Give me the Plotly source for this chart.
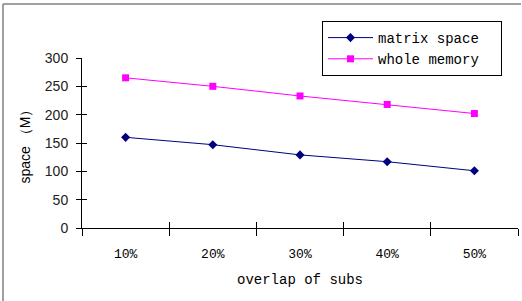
import plotly.graph_objects as go

categories = ["10%", "20%", "30%", "40%", "50%"]
matrix_space = [160, 147, 129, 117, 101]
whole_memory = [265, 250, 233, 218, 202]
series_names = ["matrix space", "whole memory"]
y_ticks = [0, 50, 100, 150, 200, 250, 300]

L, R, T, B = 82, 4, 58, 73
W, H = 522, 301
pw = W - L - R
ph = H - T - B

def px_x(x):
    return (x - L) / pw

def px_y(y):
    return (H - B - y) / ph

pad = "\u00a0\u00a0"  # right padding inside legend box
mono = "Liberation Mono"
fig = go.Figure()
fig.add_trace(go.Scatter(x=categories, y=matrix_space, name=series_names[0] + pad,
                         mode="lines+markers",
                         line=dict(color="#000080", width=1),
                         marker=dict(symbol="diamond", size=7, color="#000080")))
fig.add_trace(go.Scatter(x=categories, y=whole_memory, name=series_names[1] + pad,
                         mode="lines+markers",
                         line=dict(color="#FF00FF", width=1),
                         marker=dict(symbol="square", size=7, color="#FF00FF")))
# helper trace for crossing ticks
fig.add_trace(go.Scatter(x=categories, y=matrix_space, xaxis="x2", yaxis="y2",
                         showlegend=False, hoverinfo="skip", mode="none"))

fig.update_layout(
    width=W, height=H,
    margin=dict(l=L, r=R, t=T, b=B, autoexpand=False),
    paper_bgcolor="white", plot_bgcolor="white",
    showlegend=True,
    legend=dict(xref="container", yref="container", x=322 / W, y=1 - 21 / H,
                xanchor="left", yanchor="top",
                bordercolor="black", borderwidth=1, bgcolor="white",
                font=dict(family=mono, size=14, color="black"),
                itemwidth=45, tracegroupgap=0),
    xaxis=dict(type="category", range=[-0.5, 4.5], tickson="boundaries",
               automargin=False,
               showgrid=False, zeroline=False, showline=True, linecolor="black",
               linewidth=1, ticks="outside", ticklen=7, tickcolor="black",
               tickfont=dict(family=mono, size=13, color="black"),
               ticklabelstandoff=13,
               title=dict(text="overlap of subs", standoff=13,
                          font=dict(family=mono, size=14, color="black"))),
    yaxis=dict(range=[0, 300], tickvals=y_ticks, showgrid=False, zeroline=False,
               automargin=False,
               showline=True, linecolor="black", linewidth=1,
               ticks="outside", ticklen=5, tickcolor="black",
               tickfont=dict(family="Liberation Sans", size=14, color="#222"),
               ticklabelstandoff=5,
               title=dict(text="space （M）", standoff=10,
                          font=dict(family="Liberation Sans", size=14, color="black"))),
    xaxis2=dict(type="category", range=[-0.5, 4.5], tickson="boundaries",
                overlaying="x", anchor="y", side="bottom", showgrid=False,
                automargin=False,
                zeroline=False, showline=False, ticks="inside", ticklen=6,
                tickcolor="black", showticklabels=False),
    yaxis2=dict(range=[0, 300], tickvals=y_ticks, overlaying="y", anchor="x",
                side="left", showgrid=False, zeroline=False, showline=False,
                automargin=False,
                ticks="inside", ticklen=5, tickcolor="black", showticklabels=False),
    shapes=[
        dict(type="line", xref="paper", yref="paper", x0=px_x(3), x1=px_x(3),
             y0=px_y(4), y1=px_y(H), line=dict(color="#808080", width=1.5)),
        dict(type="line", xref="paper", yref="paper", x0=px_x(3), x1=px_x(W - 1),
             y0=px_y(4), y1=px_y(4), line=dict(color="#808080", width=1.5)),
    ],
)
fig.write_html("out.html", config={"displayModeBar": False},
               post_script="document.body.style.margin='0';document.body.style.overflow='hidden';")
